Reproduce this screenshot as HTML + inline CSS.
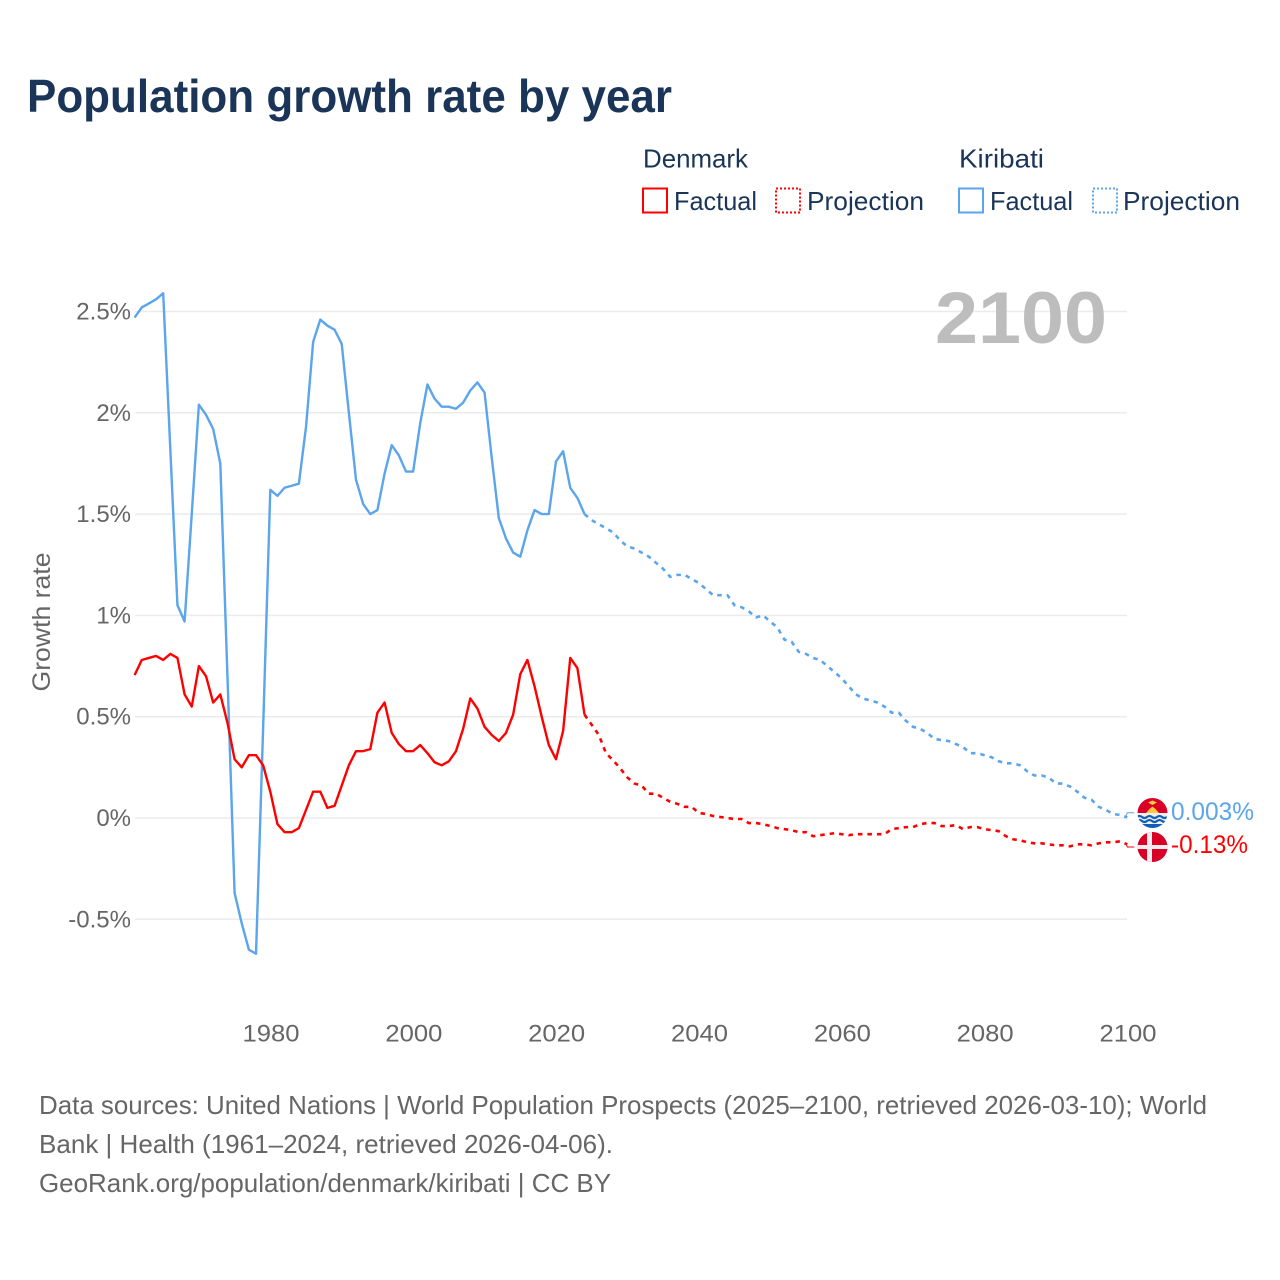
<!DOCTYPE html>
<html lang="en">
<head>
<meta charset="utf-8">
<title>Population growth rate by year</title>
<style>
  html, body { margin: 0; padding: 0; background: #fff; }
  svg { display: block; font-family: "Liberation Sans", sans-serif; }
</style>
</head>
<body>
<svg id="chart" xmlns="http://www.w3.org/2000/svg" width="1280" height="1280" viewBox="0 0 1280 1280">
  <rect width="1280" height="1280" fill="#ffffff"/>
  <text x="27" y="112" font-size="46" font-weight="700" fill="#1a3557" textLength="645" lengthAdjust="spacingAndGlyphs">Population growth rate by year</text>

  <g fill="#1a3557" font-size="26">
    <text x="643" y="167.5" textLength="105" lengthAdjust="spacingAndGlyphs">Denmark</text>
    <text x="959" y="167.5" textLength="85" lengthAdjust="spacingAndGlyphs">Kiribati</text>
    <rect x="643" y="188.5" width="24" height="24" fill="none" stroke="#ff0000" stroke-width="2"/>
    <text x="674" y="210" textLength="83" lengthAdjust="spacingAndGlyphs">Factual</text>
    <rect x="776" y="188.5" width="24" height="24" fill="none" stroke="#ff0000" stroke-width="2" stroke-dasharray="2 2"/>
    <text x="807" y="210" textLength="117" lengthAdjust="spacingAndGlyphs">Projection</text>
    <rect x="959" y="188.5" width="24" height="24" fill="none" stroke="#5aa5ec" stroke-width="2"/>
    <text x="990" y="210" textLength="83" lengthAdjust="spacingAndGlyphs">Factual</text>
    <rect x="1093" y="188.5" width="24" height="24" fill="none" stroke="#5aa5ec" stroke-width="2" stroke-dasharray="2 2"/>
    <text x="1123" y="210" textLength="117" lengthAdjust="spacingAndGlyphs">Projection</text>
  </g>

  <g id="grid"></g>
  <g id="y-axis" font-size="24" fill="#666666" text-anchor="end"></g>
  <g id="x-axis" font-size="24" fill="#666666" text-anchor="middle"></g>
  <text transform="translate(50,622) rotate(-90)" text-anchor="middle" font-size="25" fill="#666666" textLength="139" lengthAdjust="spacingAndGlyphs">Growth rate</text>
  <text x="1107" y="343" text-anchor="end" font-size="73" font-weight="700" fill="#bdbdbd" textLength="172" lengthAdjust="spacingAndGlyphs">2100</text>

  <g id="series"></g>

  <g>
    <clipPath id="kiribati-clip"><circle cx="1152.5" cy="813" r="15"/></clipPath>
    <g clip-path="url(#kiribati-clip)">
      <rect x="1137" y="797" width="31" height="16" fill="#d80027"/>
      <rect x="1137" y="813" width="31" height="16" fill="#eeeeee"/>
      <path d="M1137 817 q2.5 -2 5 0 t5 0 t5 0 t5 0 t5 0 t5 0" fill="none" stroke="#0f5fb8" stroke-width="2.2"/>
      <path d="M1137 821 q2.5 -2 5 0 t5 0 t5 0 t5 0 t5 0 t5 0" fill="none" stroke="#0f5fb8" stroke-width="2.2"/>
      <rect x="1137" y="824" width="31" height="6" fill="#0f5fb8"/>
      <path d="M1146 813 L1149.5 809 L1152.5 806.5 L1155.5 809 L1159 813 Z" fill="#ffc83d"/>
      <path d="M1148 802.5 L1152.5 800.5 L1157 802.5 L1152.5 805 Z" fill="#ffc83d"/>
    </g>
  </g>
  <g>
    <clipPath id="denmark-clip"><circle cx="1152.5" cy="847" r="15"/></clipPath>
    <g clip-path="url(#denmark-clip)">
      <rect x="1137" y="831" width="31" height="32" fill="#d80027"/>
      <rect x="1147" y="831" width="5" height="32" fill="#eeeeee"/>
      <rect x="1137" y="845" width="31" height="4" fill="#eeeeee"/>
    </g>
  </g>
  <text x="1171" y="820" font-size="25" fill="#5aa5ec" textLength="83" lengthAdjust="spacingAndGlyphs">0.003%</text>
  <text x="1171" y="853" font-size="25" fill="#ff0000" textLength="77" lengthAdjust="spacingAndGlyphs">-0.13%</text>

  <g font-size="26" fill="#666666">
    <text x="39" y="1114" textLength="1168" lengthAdjust="spacingAndGlyphs">Data sources: United Nations | World Population Prospects (2025–2100, retrieved 2026-03-10); World</text>
    <text x="39" y="1153" textLength="574" lengthAdjust="spacingAndGlyphs">Bank | Health (1961–2024, retrieved 2026-04-06).</text>
    <text x="39" y="1192" textLength="572" lengthAdjust="spacingAndGlyphs">GeoRank.org/population/denmark/kiribati | CC BY</text>
  </g>
</svg>
<script>
const factualStartYear = 1961;
const projectionStartYear = 2024;
const yTicks = [-0.5, 0, 0.5, 1, 1.5, 2, 2.5];
const yTickLabels = ["-0.5%", "0%", "0.5%", "1%", "1.5%", "2%", "2.5%"];
const xTicks = [1980, 2000, 2020, 2040, 2060, 2080, 2100];
const xTickLabels = ["1980", "2000", "2020", "2040", "2060", "2080", "2100"];

const kiribatiFactual = [
  2.47, 2.52, 2.54, 2.56, 2.59, 1.82, 1.05, 0.97, 1.5, 2.04,
  1.99, 1.92, 1.75, 0.7, -0.37, -0.52, -0.65, -0.67, 0.45, 1.62,
  1.59, 1.63, 1.64, 1.65, 1.93, 2.35, 2.46, 2.43, 2.41, 2.34,
  2.0, 1.67, 1.55, 1.5, 1.52, 1.7, 1.84, 1.79, 1.71, 1.71,
  1.95, 2.14, 2.07, 2.03, 2.03, 2.02, 2.05, 2.11, 2.15, 2.1,
  1.78, 1.48, 1.38, 1.31, 1.29, 1.42, 1.52, 1.5, 1.5, 1.76,
  1.81, 1.63, 1.58, 1.5
];
const kiribatiProjection = [
  1.5, 1.47, 1.45, 1.43, 1.41, 1.37, 1.34, 1.33, 1.31, 1.29,
  1.26, 1.23, 1.19, 1.2, 1.2, 1.18, 1.16, 1.13, 1.1, 1.1,
  1.1, 1.05, 1.04, 1.02, 0.99, 1.0, 0.97, 0.94, 0.88, 0.87,
  0.82, 0.81, 0.79, 0.78, 0.75, 0.72, 0.69, 0.65, 0.61, 0.59,
  0.58, 0.57, 0.55, 0.52, 0.52, 0.48, 0.45, 0.44, 0.42, 0.39,
  0.385, 0.38, 0.365, 0.35, 0.32, 0.32, 0.31, 0.3, 0.28, 0.27,
  0.27, 0.26, 0.23, 0.21, 0.21, 0.2, 0.17, 0.17, 0.155, 0.13,
  0.1, 0.09, 0.055, 0.04, 0.02, 0.015, 0.003
];
const denmarkFactual = [
  0.705, 0.78, 0.79, 0.8, 0.78, 0.81, 0.79, 0.61, 0.55, 0.75,
  0.7, 0.57, 0.61, 0.47, 0.29, 0.25, 0.31, 0.31, 0.26, 0.13,
  -0.03, -0.07, -0.07, -0.05, 0.04, 0.13, 0.13, 0.05, 0.06, 0.16,
  0.26, 0.33, 0.33, 0.34, 0.52, 0.57, 0.42, 0.365, 0.33, 0.33,
  0.36, 0.32, 0.275, 0.26, 0.28, 0.33, 0.44, 0.59, 0.54, 0.45,
  0.41, 0.38, 0.42, 0.51, 0.71, 0.78, 0.65, 0.5, 0.36, 0.29,
  0.43, 0.79, 0.74, 0.51
];
const denmarkProjection = [
  0.51, 0.46, 0.41, 0.32, 0.285, 0.245, 0.2, 0.17, 0.16, 0.12,
  0.12, 0.1, 0.08, 0.07, 0.055, 0.055, 0.025, 0.02, 0.01, 0.005,
  0.0, -0.005, -0.005, -0.025, -0.025, -0.03, -0.04, -0.05, -0.055, -0.06,
  -0.07, -0.07, -0.09, -0.085, -0.08, -0.075, -0.08, -0.085, -0.08, -0.08,
  -0.08, -0.08, -0.08, -0.055, -0.05, -0.045, -0.045, -0.03, -0.025, -0.025,
  -0.04, -0.04, -0.035, -0.055, -0.045, -0.045, -0.055, -0.06, -0.065, -0.09,
  -0.105, -0.11, -0.12, -0.125, -0.125, -0.13, -0.135, -0.135, -0.14, -0.13,
  -0.13, -0.135, -0.125, -0.12, -0.12, -0.115, -0.13
];

const SVG_NS = "http://www.w3.org/2000/svg";
const xScale = (year) => 270.3 + (year - 1980) * (857 / 120);
const yScale = (value) => 818 - value * 202.6;

function make(tag, attrs, parent) {
  const el = document.createElementNS(SVG_NS, tag);
  Object.keys(attrs).forEach((k) => el.setAttribute(k, attrs[k]));
  parent.appendChild(el);
  return el;
}

const gridGroup = document.getElementById("grid");
const yAxisGroup = document.getElementById("y-axis");
const xAxisGroup = document.getElementById("x-axis");
const seriesGroup = document.getElementById("series");

yTicks.forEach((tick, i) => {
  const y = yScale(tick);
  const line = make("line", { x1: 135, x2: 1127, y1: y, y2: y, stroke: "#ebebeb", "stroke-width": 1.5 }, gridGroup);
  
  
  const label = make("text", { x: 131, y: y + 8 }, yAxisGroup);
  label.textContent = yTickLabels[i];
  
  
});

xTicks.forEach((tick, i) => {
  const label = make("text", { x: xScale(tick) + 0.7, y: 1041.5, textLength: 57, lengthAdjust: "spacingAndGlyphs" }, xAxisGroup);
  label.textContent = xTickLabels[i];
  
  
});

function linePath(values, startYear) {
  return values.map((v, i) => (i ? "L" : "M") + xScale(startYear + i).toFixed(2) + " " + yScale(v).toFixed(2)).join(" ");
}

function drawSeries(values, startYear, color, dashed) {
  const attrs = { d: linePath(values, startYear), fill: "none", stroke: color, "stroke-width": dashed ? 2.6 : 2.4, "stroke-linejoin": "round" };
  if (dashed) attrs["stroke-dasharray"] = "4.5 5";
  return make("path", attrs, seriesGroup);
}

const kiribatiFactualLine = drawSeries(kiribatiFactual, factualStartYear, "#5aa5ec", false);


const kiribatiProjectionLine = drawSeries(kiribatiProjection, projectionStartYear, "#5aa5ec", true);


const denmarkFactualLine = drawSeries(denmarkFactual, factualStartYear, "#ff0000", false);


const denmarkProjectionLine = drawSeries(denmarkProjection, projectionStartYear, "#ff0000", true);



const endX = xScale(2100);
const kiribatiEndY = yScale(kiribatiProjection[kiribatiProjection.length - 1]);
const denmarkEndY = yScale(denmarkProjection[denmarkProjection.length - 1]);
const kiribatiConnector = make("path", { d: "M" + (endX - 2) + " " + kiribatiEndY + " L" + endX + " " + (kiribatiEndY - 4.6) + " H" + (endX + 7), fill: "none", stroke: "#5aa5ec", "stroke-width": 1 }, seriesGroup);


const denmarkConnector = make("path", { d: "M" + (endX - 1) + " " + denmarkEndY + " L" + endX + " " + (denmarkEndY + 2.6) + " H" + (endX + 7), fill: "none", stroke: "#ff0000", "stroke-width": 1 }, seriesGroup);


</script>
</body>
</html>
